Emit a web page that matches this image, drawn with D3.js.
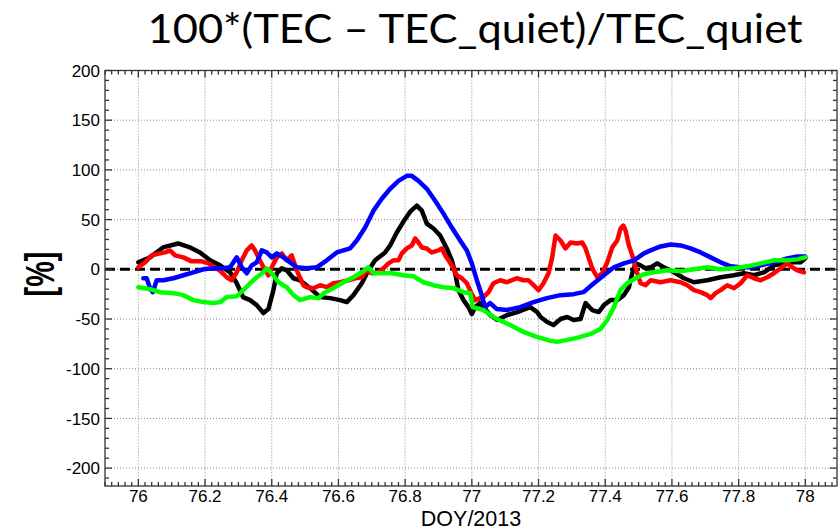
<html>
<head>
    <style>
        body { margin: 0; background: #fff; }
    </style>
    <script src="https://cdn.jsdelivr.net/npm/d3@7"></script>
</head>
<body>
    <svg width=840 height=531></svg>
</body>
<script>

    // [DOY, percent] pairs
    const blackSeries = [
        [76.000, 7], [76.035, 12], [76.074, 22], [76.119, 26], [76.155, 22], [76.185, 17], [76.215, 9],
        [76.245, 4], [76.275, -3], [76.295, -14], [76.314, -28], [76.335, -31], [76.355, -36], [76.375, -44],
        [76.390, -40], [76.405, -21], [76.415, -4], [76.430, 1], [76.445, -1], [76.465, -9], [76.485, -11],
        [76.515, -19], [76.545, -28], [76.575, -29], [76.605, -31], [76.625, -33], [76.645, -26], [76.670, -14],
        [76.690, -1], [76.710, 9], [76.740, 17], [76.755, 24], [76.775, 37], [76.795, 48], [76.815, 58],
        [76.835, 64], [76.850, 59], [76.865, 46], [76.885, 41], [76.905, 34], [76.925, 21], [76.940, 9],
        [76.950, -4], [76.960, -21], [76.975, -31], [76.990, -38], [77.000, -45], [77.010, -38], [77.025, -34],
        [77.055, -46], [77.076, -51], [77.106, -46], [77.136, -43], [77.175, -38], [77.196, -43], [77.206, -48],
        [77.226, -53], [77.245, -56], [77.266, -50], [77.286, -48], [77.305, -51], [77.326, -50], [77.341, -34],
        [77.361, -41], [77.381, -43], [77.396, -36], [77.416, -31], [77.436, -31], [77.456, -26], [77.471, -18],
        [77.481, -4], [77.491, 6], [77.506, 4], [77.521, 1], [77.536, 2], [77.556, 6], [77.576, 2],
        [77.606, -3], [77.636, -9], [77.666, -13], [77.706, -11], [77.746, -8], [77.786, -6], [77.816, -4],
        [77.846, -6], [77.876, -3], [77.906, 4], [77.936, 6], [77.966, 7], [77.986, 7], [78.000, 11]
    ];

    const redSeries = [
        [76.000, 2], [76.020, 7], [76.040, 14], [76.065, 16], [76.080, 17], [76.095, 19], [76.110, 14],
        [76.135, 12], [76.160, 8], [76.190, 8], [76.210, 6], [76.230, 2], [76.250, -3], [76.265, -8],
        [76.280, -11], [76.295, -3], [76.310, 9], [76.325, 19], [76.340, 24], [76.350, 19], [76.360, 12],
        [76.375, 2], [76.390, -6], [76.400, 2], [76.415, 12], [76.430, 16], [76.445, 9], [76.460, 14],
        [76.475, -1], [76.495, -16], [76.505, -18], [76.525, -19], [76.545, -16], [76.565, -18], [76.585, -14],
        [76.605, -13], [76.630, -11], [76.650, -9], [76.670, -8], [76.685, -1], [76.700, -4], [76.720, -3],
        [76.735, 1], [76.750, 6], [76.765, 9], [76.780, 9], [76.790, 16], [76.805, 21], [76.820, 24],
        [76.830, 31], [76.840, 27], [76.850, 22], [76.865, 21], [76.880, 17], [76.900, 19], [76.910, 21],
        [76.920, 14], [76.930, 9], [76.945, 1], [76.955, -6], [76.970, -9], [76.985, -14], [77.000, -25],
        [77.010, -31], [77.025, -29], [77.035, -28], [77.050, -23], [77.065, -14], [77.085, -11], [77.105, -13],
        [77.135, -9], [77.155, -11], [77.170, -11], [77.185, -16], [77.200, -21], [77.215, -14], [77.230, -4],
        [77.241, 12], [77.251, 34], [77.266, 29], [77.281, 21], [77.296, 27], [77.315, 26], [77.331, 27],
        [77.341, 21], [77.351, 11], [77.361, 1], [77.376, -8], [77.391, -4], [77.406, 7], [77.421, 22],
        [77.436, 29], [77.446, 41], [77.454, 44], [77.461, 39], [77.471, 24], [77.481, 14], [77.496, -4],
        [77.506, -14], [77.521, -16], [77.536, -11], [77.566, -13], [77.596, -11], [77.626, -13], [77.646, -16],
        [77.666, -21], [77.686, -23], [77.706, -26], [77.716, -29], [77.731, -24], [77.746, -21], [77.766, -16],
        [77.786, -19], [77.806, -14], [77.826, -6], [77.846, -9], [77.866, -11], [77.886, -8], [77.906, -4],
        [77.926, 1], [77.946, 6], [77.961, 2], [77.976, -1], [77.996, -3]
    ];

    const blueSeries = [
        [76.015, -9], [76.025, -9], [76.035, -19], [76.043, -23], [76.055, -11], [76.075, -11], [76.105, -9],
        [76.135, -6], [76.165, -3], [76.195, 0], [76.225, 1], [76.255, 1], [76.275, 2], [76.295, 12],
        [76.310, 2], [76.325, -4], [76.340, 4], [76.355, 7], [76.370, 19], [76.385, 17], [76.400, 12],
        [76.415, 16], [76.435, 12], [76.455, 7], [76.475, 2], [76.505, 1], [76.535, 2], [76.565, 9],
        [76.595, 17], [76.615, 19], [76.635, 21], [76.655, 29], [76.680, 42], [76.705, 59], [76.730, 71],
        [76.755, 81], [76.780, 89], [76.805, 94], [76.820, 94], [76.840, 89], [76.865, 81], [76.890, 69],
        [76.915, 56], [76.940, 42], [76.965, 29], [76.985, 19], [77.000, 6], [77.015, -11], [77.025, -21],
        [77.040, -38], [77.055, -34], [77.075, -40], [77.105, -41], [77.145, -38], [77.185, -33], [77.225, -29],
        [77.266, -26], [77.305, -25], [77.335, -23], [77.366, -14], [77.396, -6], [77.426, 2], [77.456, 6],
        [77.486, 9], [77.516, 16], [77.536, 19], [77.566, 23], [77.596, 25], [77.626, 24], [77.656, 21],
        [77.686, 17], [77.716, 12], [77.746, 7], [77.776, 3], [77.806, 2], [77.836, 2], [77.866, 4],
        [77.906, 7], [77.946, 11], [77.976, 13], [78.000, 13]
    ];

    const greenSeries = [
        [76.000, -18], [76.035, -20], [76.065, -23], [76.105, -24], [76.135, -26], [76.165, -31], [76.195, -33],
        [76.225, -34], [76.245, -33], [76.265, -28], [76.295, -27], [76.315, -21], [76.335, -14], [76.355, -8],
        [76.375, -3], [76.385, 1], [76.400, -4], [76.420, -13], [76.445, -18], [76.465, -26], [76.485, -31],
        [76.515, -28], [76.540, -29], [76.560, -23], [76.585, -19], [76.615, -13], [76.645, -8], [76.670, -3],
        [76.690, 2], [76.705, -4], [76.730, -4], [76.760, -4], [76.795, -6], [76.825, -7], [76.855, -13],
        [76.885, -16], [76.915, -18], [76.945, -19], [76.975, -23], [76.995, -24], [77.003, -38], [77.035, -41],
        [77.075, -50], [77.115, -56], [77.155, -63], [77.195, -68], [77.236, -72], [77.256, -73], [77.286, -71],
        [77.315, -69], [77.356, -65], [77.386, -60], [77.406, -51], [77.426, -38], [77.446, -21], [77.466, -14],
        [77.491, -9], [77.516, -5], [77.546, -3], [77.586, -1], [77.626, -2], [77.666, 0], [77.706, 2],
        [77.746, 0], [77.786, 1], [77.826, 3], [77.866, 6], [77.906, 9], [77.946, 9], [77.976, 10], [78.000, 12]
    ];

    const xTicks = [76, 76.2, 76.4, 76.6, 76.8, 77, 77.2, 77.4, 77.6, 77.8, 78];
    const xTickLabels = ["76", "76.2", "76.4", "76.6", "76.8", "77", "77.2", "77.4", "77.6", "77.8", "78"];
    const yTicks = [200, 150, 100, 50, 0, -50, -100, -150, -200];
    const yTickLabels = ["200", "150", "100", "50", "0", "-50", "-100", "-150", "-200"];

    let plotLeft = 105, plotRight = 837, plotTop = 70.5, plotBottom = 486;

    let x = d3.scaleLinear().domain([75.9, 78.095]).range([plotLeft, plotRight]);
    let y = d3.scaleLinear().domain([-218, 200]).range([plotBottom, plotTop]);

    const svg = d3.select("svg");
    svg.append("rect").attr("width", 840).attr("height", 531).attr("fill", "#fff");

    // title
    svg.append("text")
        .attr("x", 475)
        .attr("y", 43)
        .attr("text-anchor", "middle")
        .attr("textLength", 655)
        .attr("lengthAdjust", "spacingAndGlyphs")
        .style("font", "41px Lato, 'Open Sans', sans-serif")
        .text("100*(TEC \u2013 TEC_quiet)/TEC_quiet");

    // dotted grid
    let grid = svg.append("g")
        .attr("stroke", "#8a8a8a")
        .attr("stroke-width", 1)
        .attr("stroke-dasharray", "1,2");
    grid.selectAll(".gx").data(xTicks).join("line")
        .attr("x1", d => x(d)).attr("x2", d => x(d))
        .attr("y1", plotTop).attr("y2", plotBottom);
    grid.selectAll(".gy").data(yTicks).join("line")
        .attr("x1", plotLeft).attr("x2", plotRight)
        .attr("y1", d => y(d)).attr("y2", d => y(d));

    // zero line
    svg.append("line")
        .attr("x1", plotLeft).attr("x2", plotRight)
        .attr("y1", y(0)).attr("y2", y(0))
        .attr("stroke", "#000")
        .attr("stroke-width", 3)
        .attr("stroke-dasharray", "10,5");

    // curves
    let line = d3.line().x(d => x(d[0])).y(d => y(d[1]));
    let series = [
        { data: blackSeries, color: "#000000" },
        { data: redSeries, color: "#ff0000" },
        { data: blueSeries, color: "#0000ff" },
        { data: greenSeries, color: "#00ff00" }
    ];
    svg.append("g")
        .selectAll("path")
        .data(series)
        .join("path")
            .attr("d", d => line(d.data))
            .attr("fill", "none")
            .attr("stroke", d => d.color)
            .attr("stroke-width", 4.5)
            .attr("stroke-linejoin", "round")
            .attr("stroke-linecap", "round");

    // frame with inward ticks on all sides
    let frame = svg.append("g").attr("stroke", "#333").attr("stroke-width", 1.3);
    frame.append("rect")
        .attr("x", plotLeft).attr("y", plotTop)
        .attr("width", plotRight - plotLeft).attr("height", plotBottom - plotTop)
        .attr("fill", "none");

    let xMinor = d3.range(0, 110).map(i => 75.9 + i * 0.02);
    let yMinor = d3.range(-21, 21).map(i => i * 10);
    let isMajor = (v, step) => Math.abs(v / step - Math.round(v / step)) < 1e-6;

    frame.selectAll(".xb").data(xMinor).join("line")
        .attr("x1", d => x(d)).attr("x2", d => x(d))
        .attr("y1", plotBottom).attr("y2", d => plotBottom - (isMajor(d, 0.2) ? 7 : 4));
    frame.selectAll(".xt").data(xMinor).join("line")
        .attr("x1", d => x(d)).attr("x2", d => x(d))
        .attr("y1", plotTop).attr("y2", d => plotTop + (isMajor(d, 0.2) ? 7 : 4));
    frame.selectAll(".yl").data(yMinor).join("line")
        .attr("y1", d => y(d)).attr("y2", d => y(d))
        .attr("x1", plotLeft).attr("x2", d => plotLeft + (isMajor(d, 50) ? 7 : 4));
    frame.selectAll(".yr").data(yMinor).join("line")
        .attr("y1", d => y(d)).attr("y2", d => y(d))
        .attr("x1", plotRight).attr("x2", d => plotRight - (isMajor(d, 50) ? 7 : 4));

    // tick labels
    let labelFont = "17px 'Liberation Sans', Arial, sans-serif";
    svg.append("g")
        .selectAll("text")
        .data(xTicks)
        .join("text")
            .attr("x", d => x(d))
            .attr("y", 502)
            .attr("text-anchor", "middle")
            .style("font", labelFont)
            .text((d, i) => xTickLabels[i]);

    svg.append("g")
        .selectAll("text")
        .data(yTicks)
        .join("text")
            .attr("x", 100)
            .attr("y", d => y(d))
            .attr("dy", "0.36em")
            .attr("text-anchor", "end")
            .style("font", labelFont)
            .text((d, i) => yTickLabels[i]);

    // axis titles
    svg.append("text")
        .attr("x", 471)
        .attr("y", 526)
        .attr("text-anchor", "middle")
        .style("font", "21.5px 'Liberation Sans', Arial, sans-serif")
        .text("DOY/2013");

    svg.append("text")
        .attr("transform", "translate(54,274) rotate(-90) scale(0.72,1)")
        .attr("text-anchor", "middle")
        .style("font", "bold 40px 'Liberation Sans', Arial, sans-serif")
        .text("[%]");

</script>
</html>
